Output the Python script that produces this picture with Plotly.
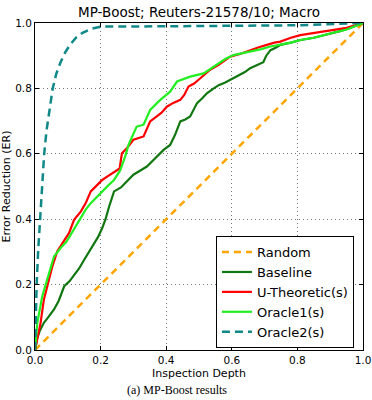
import plotly.graph_objects as go

# ---- data ----
random_x = [0.0, 1.0]
random_y = [0.0, 1.0]

baseline_x = [0, 0.007, 0.015, 0.027, 0.04, 0.058, 0.072, 0.089, 0.105, 0.119,
              0.135, 0.15, 0.165, 0.18, 0.192, 0.205, 0.215, 0.226, 0.235, 0.241,
              0.262, 0.27, 0.285, 0.30, 0.32, 0.341, 0.365, 0.392, 0.412, 0.427,
              0.443, 0.458, 0.473, 0.494, 0.51, 0.524, 0.545, 0.56, 0.58, 0.595,
              0.62, 0.64, 0.656, 0.675, 0.696, 0.705, 0.718, 0.735, 0.748, 0.78,
              0.81, 0.85, 0.89, 0.93, 0.96, 1.0]
baseline_y = [0, 0.037, 0.06, 0.083, 0.10, 0.124, 0.15, 0.195, 0.21, 0.23,
              0.25, 0.276, 0.30, 0.327, 0.345, 0.373, 0.40, 0.439, 0.465, 0.485,
              0.497, 0.505, 0.52, 0.536, 0.548, 0.561, 0.585, 0.612, 0.627, 0.658,
              0.699, 0.705, 0.714, 0.755, 0.77, 0.785, 0.80, 0.81, 0.818, 0.826,
              0.84, 0.85, 0.862, 0.87, 0.88, 0.90, 0.917, 0.925, 0.933, 0.94,
              0.948, 0.955, 0.965, 0.975, 0.985, 1.0]

utheo_x = [0, 0.008, 0.017, 0.027, 0.038, 0.053, 0.068, 0.08, 0.089, 0.104,
           0.119, 0.14, 0.155, 0.17, 0.19, 0.205, 0.22, 0.235, 0.249, 0.258,
           0.265, 0.28, 0.30, 0.315, 0.331, 0.351, 0.371, 0.385, 0.402, 0.42,
           0.443, 0.455, 0.468, 0.485, 0.504, 0.52, 0.534, 0.56, 0.58, 0.595,
           0.625, 0.656, 0.68, 0.707, 0.73, 0.748, 0.78, 0.809, 0.85, 0.9,
           0.95, 1.0]
utheo_y = [0, 0.04, 0.083, 0.154, 0.2, 0.256, 0.302, 0.32, 0.337, 0.358,
           0.398, 0.424, 0.45, 0.485, 0.505, 0.52, 0.53, 0.54, 0.55, 0.555,
           0.602, 0.617, 0.643, 0.648, 0.653, 0.699, 0.714, 0.725, 0.744, 0.755,
           0.765, 0.78, 0.806, 0.815, 0.831, 0.845, 0.857, 0.872, 0.885, 0.897,
           0.905, 0.917, 0.925, 0.933, 0.94, 0.943, 0.955, 0.963, 0.97, 0.978,
           0.985, 1.0]

oracle1_x = [0, 0.007, 0.022, 0.038, 0.048, 0.058, 0.078, 0.095, 0.109, 0.125,
             0.14, 0.155, 0.17, 0.19, 0.211, 0.225, 0.241, 0.26, 0.275, 0.285,
             0.295, 0.31, 0.331, 0.351, 0.382, 0.412, 0.433, 0.473, 0.514, 0.535,
             0.56, 0.58, 0.605, 0.63, 0.656, 0.69, 0.718, 0.748, 0.78, 0.809,
             0.85, 0.9, 0.95, 1.0]
oracle1_y = [0, 0.083, 0.164, 0.215, 0.25, 0.286, 0.312, 0.33, 0.353, 0.38,
             0.408, 0.43, 0.449, 0.47, 0.49, 0.505, 0.52, 0.55, 0.592, 0.627,
             0.65, 0.683, 0.689, 0.734, 0.765, 0.79, 0.821, 0.836, 0.846, 0.86,
             0.877, 0.89, 0.902, 0.907, 0.912, 0.92, 0.928, 0.933, 0.94, 0.948,
             0.955, 0.968, 0.98, 1.0]

oracle2_x = [0, 0.002, 0.005, 0.01, 0.015, 0.021, 0.028, 0.035, 0.044, 0.054,
             0.065, 0.078, 0.092, 0.108, 0.125, 0.145, 0.17, 0.2, 0.4, 0.6,
             0.8, 1.0]
oracle2_y = [0, 0.1, 0.2, 0.31, 0.4, 0.5, 0.6, 0.67, 0.74, 0.8,
             0.845, 0.88, 0.91, 0.935, 0.955, 0.97, 0.982, 0.989, 0.99, 0.991,
             0.993, 1.0]

tick_vals = [0.0, 0.2, 0.4, 0.6, 0.8, 1.0]
tick_text = ["0.0", "0.2", "0.4", "0.6", "0.8", "1.0"]

FONT = "DejaVu Sans"

fig = go.Figure()
fig.add_trace(go.Scatter(x=random_x, y=random_y, mode="lines", name="Random",
                         line=dict(color="#FFA500", width=2.5, dash="7px,5px")))
fig.add_trace(go.Scatter(x=baseline_x, y=baseline_y, mode="lines", name="Baseline",
                         line=dict(color="#117711", width=2.2)))
fig.add_trace(go.Scatter(x=utheo_x, y=utheo_y, mode="lines", name="U-Theoretic(s)",
                         line=dict(color="#ff0000", width=2.2)))
fig.add_trace(go.Scatter(x=oracle1_x, y=oracle1_y, mode="lines", name="Oracle1(s)",
                         line=dict(color="#22ee22", width=2.2)))
fig.add_trace(go.Scatter(x=oracle2_x, y=oracle2_y, mode="lines", name="Oracle2(s)",
                         line=dict(color="#118888", width=2.5, dash="8px,5px")))

axis_common = dict(
    range=[0, 1], tickvals=tick_vals, ticktext=tick_text, automargin=False,
    showline=True, linecolor="black", linewidth=1, mirror="allticks",
    ticks="inside", ticklen=4, tickcolor="black",
    showgrid=True, gridcolor="rgba(0,0,0,0.55)", gridwidth=1, griddash="1px,3px",
    zeroline=False, tickfont=dict(family=FONT, size=10.5, color="black"),
)

fig.update_layout(
    width=372, height=400,
    margin=dict(l=35, r=9, t=23, b=50, autoexpand=False),
    paper_bgcolor="white", plot_bgcolor="white",
    font=dict(family=FONT, color="black"),
    title=dict(text="MP-Boost; Reuters-21578/10; Macro", x=0.535, xanchor="center",
               y=0.97, yanchor="middle", yref="container",
               font=dict(family=FONT, size=13.5, color="black")),
    xaxis=dict(axis_common, title=dict(text="Inspection Depth", standoff=4,
                                       font=dict(family=FONT, size=11))),
    yaxis=dict(axis_common, title=dict(text="Error Reduction (ER)", standoff=4,
                                       font=dict(family=FONT, size=11))),
    legend=dict(x=0.762, y=0.177, xanchor="center", yanchor="middle",
                bgcolor="white", bordercolor="black", borderwidth=1,
                font=dict(family=FONT, size=13, color="black"),
                tracegroupgap=0),
    showlegend=True,
    annotations=[dict(text="(a) MP-Boost results", xref="paper", yref="paper",
                      x=0.433, y=-0.095, xanchor="center", yanchor="top",
                      showarrow=False,
                      font=dict(family="Liberation Serif", size=12, color="black"))],
)

fig.write_html("out.html")
